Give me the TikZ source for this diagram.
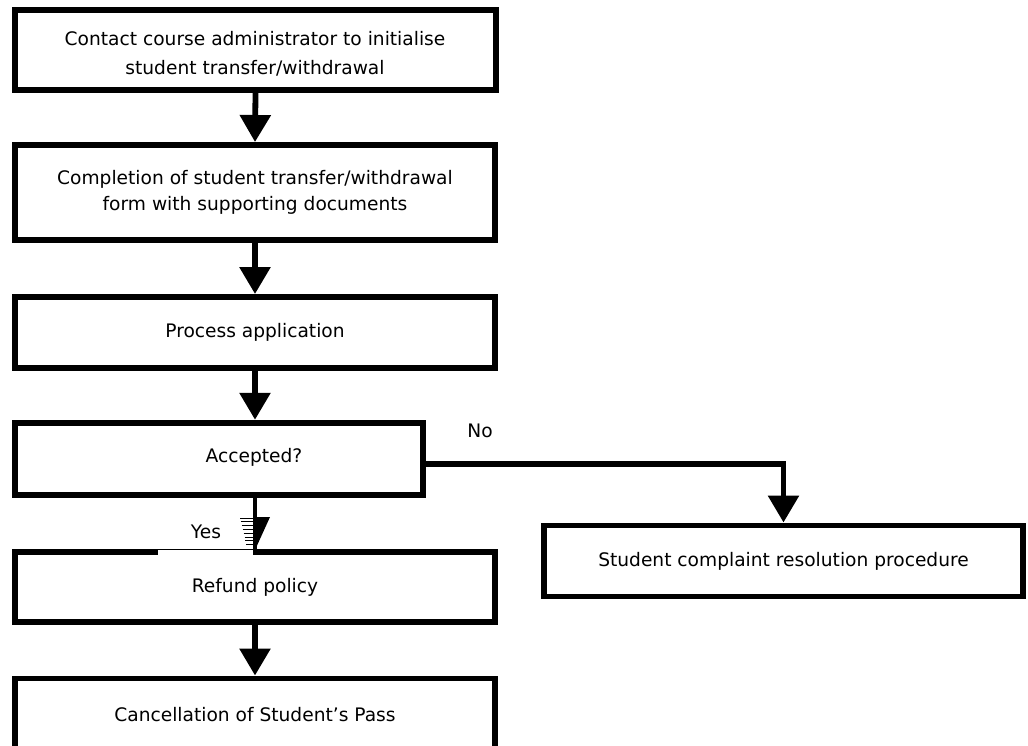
\documentclass[tikz,border=0pt]{standalone}
\usepackage{fontspec}
\setmainfont{DejaVu Sans}
\usetikzlibrary{arrows.meta,positioning}

\begin{document}
\begin{tikzpicture}[x=0.02cm, y=-0.02cm,
    procbox/.style={rectangle, draw, line width=3.4pt, minimum width=9.6cm, minimum height=1.42cm,
                    inner sep=0pt, align=center, font=\fontsize{10.6}{14.8}\selectfont},
    plaintext/.style={inner sep=0pt, align=center, font=\fontsize{10.6}{14.8}\selectfont},
    flow/.style={line width=3.3pt, -{Triangle[width=0.6cm,length=0.54cm]}}
]
    % Page frame
    \useasboundingbox (0,0) rectangle (1028,746);
    \clip (0,0) rectangle (1028,746);

    % Main column of steps
    \node[procbox, minimum width=9.62cm, minimum height=1.6cm] (start) at (255.5,50) {};
    \node[plaintext, font=\fontsize{10.6}{16.2}\selectfont] (starttext) at (255,54)
        {Contact course administrator to initialise\\student transfer/withdrawal};
    \node[procbox, minimum height=1.9cm] (form) at (255,192.5)
        {Completion of student transfer/withdrawal\\form with supporting documents};
    \node[procbox] (proc) at (255,332.5) {Process application};
    \node[procbox, minimum width=8.16cm, minimum height=1.45cm] (acc) at (219,459) {};
    \node[plaintext] (acctext) at (254,457) {Accepted?};
    \node[procbox, minimum height=1.41cm] (refund) at (255,587) {Refund policy};
    \node[procbox, minimum height=1.46cm] (cancel) at (255,715) {Cancellation of Student’s Pass};

    % Branch for rejected applications
    \node[procbox, minimum width=9.58cm] (comp) at (783.5,561) {Student complaint resolution procedure};

    % Connectors
    \draw[flow] (start.south) -- (form.north);
    \draw[flow] (form.south) -- (proc.north);
    \draw[flow] (proc.south) -- (proc.south |- acc.north);
    \draw[flow] ([yshift=-0.1cm]acc.east) -| (comp.north);
    \draw[flow] (refund.south) -- (cancel.north);

    % Yes branch
    \fill[white] (158,550) rectangle (253,555);
    \draw[line width=2.3pt] (proc.south |- acc.south) -- (refund.north);
    \fill (255,517) -- (270,517) -- (255,550) -- cycle;
    \foreach \t in {0,...,7} {
        \draw[line width=0.5pt] (240+\t*0.9,518+\t*3.8) -- (253,518+\t*3.8);
    }

    % Branch labels
    \node[plaintext] (nolabel) at (480,431) {No};
    \node[plaintext] (yeslabel) at (206,532) {Yes};
\end{tikzpicture}
\end{document}
